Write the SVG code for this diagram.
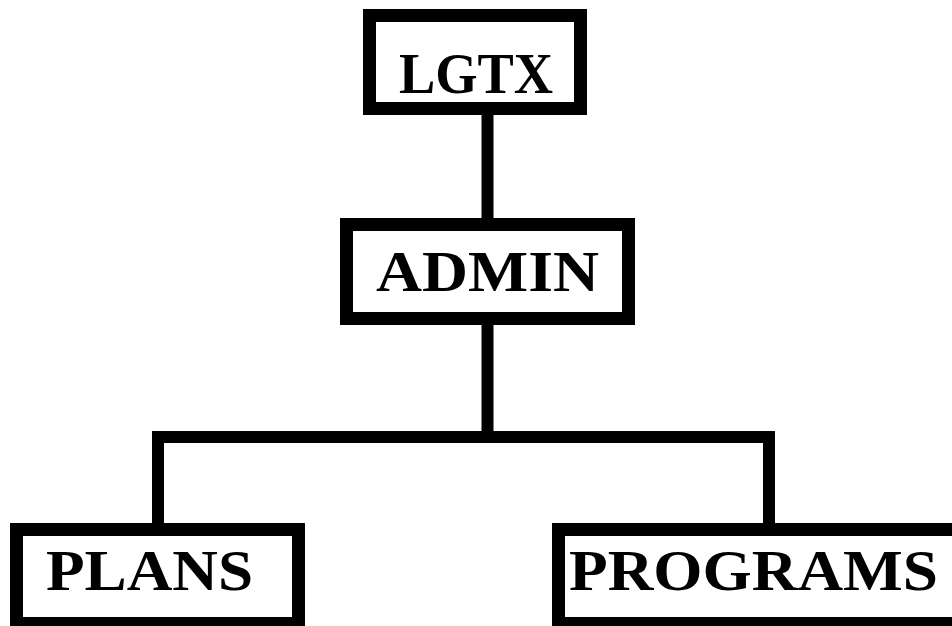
<svg xmlns="http://www.w3.org/2000/svg" width="952" height="626" viewBox="0 0 952 626">
<style>
.box{fill:#fff;stroke:#000;stroke-width:13;stroke-linejoin:miter}
.lbl{font-family:"Liberation Serif","Times New Roman",serif;font-weight:bold;font-size:56px;fill:#000}
.edge{fill:none;stroke:#000;stroke-width:12;stroke-linejoin:miter;stroke-linecap:butt}
</style>
<rect width="952" height="626" fill="#fff"/>
<g id="connectors">
<path class="edge" d="M487.5 115 V218"/>
<path class="edge" d="M487.5 325 V437"/>
<path class="edge" d="M158 523 V437 H769 V523"/>
</g>
<g id="node-lgtx">
<rect class="box" x="369.5" y="15.5" width="211" height="93"/>
<text class="lbl" x="399" y="93" textLength="154" lengthAdjust="spacingAndGlyphs">LGTX</text>
</g>
<g id="node-admin">
<rect class="box" x="346.5" y="224.5" width="282" height="94"/>
<text class="lbl" x="376" y="291" textLength="223" lengthAdjust="spacingAndGlyphs">ADMIN</text>
</g>
<g id="node-plans">
<rect class="box" x="16.5" y="529.5" width="282" height="94"/>
<text class="lbl" x="46" y="590" textLength="207" lengthAdjust="spacingAndGlyphs">PLANS</text>
</g>
<g id="node-programs">
<rect class="box" x="558.5" y="529.5" width="410" height="94"/>
<text class="lbl" x="569" y="590" textLength="369" lengthAdjust="spacingAndGlyphs">PROGRAMS</text>
</g>
</svg>
